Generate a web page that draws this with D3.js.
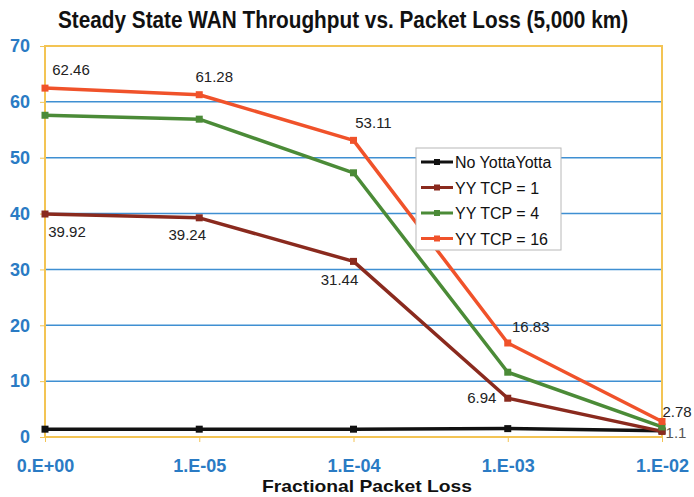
<!DOCTYPE html>
<html>
<head>
<meta charset="utf-8">
<script src="https://cdn.jsdelivr.net/npm/d3@7"></script>
<style>
  body { margin: 0; background: #fff; }
  svg { display: block; }
</style>
</head>
<body>
<div id="chart"></div>
<script>
// values
const categories = ['0.E+00', '1.E-05', '1.E-04', '1.E-03', '1.E-02'];
const seriesNames = ['No YottaYotta', 'YY TCP = 1', 'YY TCP = 4', 'YY TCP = 16'];
const noYottaYotta = [1.4, 1.4, 1.4, 1.5, 1.1];
const yyTcp1 = [39.92, 39.24, 31.44, 6.94, 1.0];
const yyTcp4 = [57.6, 56.9, 47.3, 11.6, 1.8];
const yyTcp16 = [62.46, 61.28, 53.11, 16.83, 2.78];
const yTicks = [0, 10, 20, 30, 40, 50, 60, 70];

// which points carry a value label: [series index, category index]
const labelled = [[3, 0], [3, 1], [3, 2], [3, 3], [3, 4], [1, 0], [1, 1], [1, 2], [1, 3], [0, 4]];

const seriesValues = [noYottaYotta, yyTcp1, yyTcp4, yyTcp16];
const colors = ['#111111', '#8a2a1e', '#4b8b37', '#f0522a'];
// label offsets from the point (dx to label centre, dy to baseline)
const labelOffsets = [[26, -13], [15, -13], [20, -12], [23, -11], [15, -4], [22, 23], [-12, 22], [-14, 24], [-26, 5], [14, 7]];

const width = 694, height = 497;
const margin = {top: 46, right: 32, bottom: 60, left: 45};

const svg = d3.select('#chart').append('svg')
    .attr('width', width)
    .attr('height', height);

const x = d3.scalePoint()
    .domain(categories)
    .range([margin.left, width - margin.right]);

const y = d3.scaleLinear()
    .domain([0, 70])
    .range([height - margin.bottom, margin.top]);

// grid lines
svg.append('g')
    .selectAll('line')
    .data(yTicks.filter(d => d > 0 && d < 70))
    .enter().append('line')
    .attr('x1', margin.left)
    .attr('x2', width - margin.right)
    .attr('y1', d => y(d))
    .attr('y2', d => y(d))
    .attr('stroke', '#3f8fd2')
    .attr('stroke-width', 1.5);

// y axis
const yAxis = svg.append('g')
    .attr('transform', 'translate(' + margin.left + ',0)')
    .call(d3.axisLeft(y).tickValues(yTicks).tickSize(5).tickPadding(10));
yAxis.select('.domain').remove();
yAxis.selectAll('line').attr('stroke', '#f3c454');
yAxis.selectAll('text')
    .style('font-family', 'Liberation Sans, Arial, sans-serif')
    .style('font-size', '18px')
    .style('font-weight', 'bold')
    .attr('fill', '#2a7bc4');

// x axis
const xAxis = svg.append('g')
    .attr('transform', 'translate(0,' + (height - margin.bottom) + ')')
    .call(d3.axisBottom(x).tickSize(5).tickPadding(17));
xAxis.select('.domain').remove();
xAxis.selectAll('line').attr('stroke', '#f3c454');
xAxis.selectAll('text')
    .style('font-family', 'Liberation Sans, Arial, sans-serif')
    .style('font-size', '18px')
    .style('font-weight', 'bold')
    .attr('fill', '#2a7bc4');

// plot frame
svg.append('rect')
    .attr('x', margin.left)
    .attr('y', margin.top)
    .attr('width', width - margin.left - margin.right)
    .attr('height', height - margin.top - margin.bottom)
    .attr('fill', 'none')
    .attr('stroke', '#f3c454')
    .attr('stroke-width', 2);

// lines and markers
const line = d3.line()
    .x((d, i) => x(categories[i]))
    .y(d => y(d));

seriesValues.forEach((vals, s) => {
    svg.append('path')
        .datum(vals)
        .attr('d', line)
        .attr('fill', 'none')
        .attr('stroke', colors[s])
        .attr('stroke-width', 3.5)
        .attr('stroke-linejoin', 'round');
    svg.append('g')
        .selectAll('rect')
        .data(vals)
        .enter().append('rect')
        .attr('x', (d, i) => x(categories[i]) - 3.5)
        .attr('y', d => y(d) - 3.5)
        .attr('width', 7)
        .attr('height', 7)
        .attr('fill', colors[s]);
});

// value labels
svg.append('g')
    .selectAll('text')
    .data(labelled)
    .enter().append('text')
    .attr('x', (d, i) => x(categories[d[1]]) + labelOffsets[i][0])
    .attr('y', (d, i) => y(seriesValues[d[0]][d[1]]) + labelOffsets[i][1])
    .attr('text-anchor', 'middle')
    .style('font-family', 'Liberation Sans, Arial, sans-serif')
    .style('font-size', '15px')
    .attr('fill', (d, i) => i === labelled.length - 1 ? '#555' : '#222')
    .text(d => String(seriesValues[d[0]][d[1]]));

// legend
const legend = svg.append('g')
    .attr('transform', 'translate(416,148)');
legend.append('rect')
    .attr('width', 145)
    .attr('height', 102)
    .attr('fill', '#fff')
    .attr('stroke', '#b8b8b8');
const items = legend.selectAll('g.item')
    .data(seriesNames)
    .enter().append('g')
    .attr('class', 'item')
    .attr('transform', (d, i) => 'translate(0,' + (14 + i * 25.5) + ')');
items.append('line')
    .attr('x1', 5).attr('x2', 37)
    .attr('stroke', (d, i) => colors[i])
    .attr('stroke-width', 3);
items.append('rect')
    .attr('x', 18).attr('y', -3).attr('width', 6).attr('height', 6)
    .attr('fill', (d, i) => colors[i]);
items.append('text')
    .attr('x', 39)
    .attr('y', 6)
    .style('font-family', 'Liberation Sans, Arial, sans-serif')
    .style('font-size', '16px')
    .attr('fill', '#111')
    .text(d => d);

// titles (condensed look: horizontally squeezed bold sans)
svg.append('text')
    .attr('transform', 'translate(343,28) scale(0.866,1)')
    .attr('text-anchor', 'middle')
    .style('font-family', 'Liberation Sans, Arial, sans-serif')
    .style('font-size', '24px')
    .style('font-weight', 'bold')
    .attr('fill', '#111')
    .text('Steady State WAN Throughput vs. Packet Loss (5,000 km)');

svg.append('text')
    .attr('x', 367)
    .attr('y', 492)
    .attr('text-anchor', 'middle')
    .attr('textLength', 210)
    .attr('lengthAdjust', 'spacingAndGlyphs')
    .style('font-family', 'Liberation Sans, Arial, sans-serif')
    .style('font-size', '17px')
    .style('font-weight', 'bold')
    .attr('fill', '#111')
    .text('Fractional Packet Loss');
</script>
</body>
</html>
